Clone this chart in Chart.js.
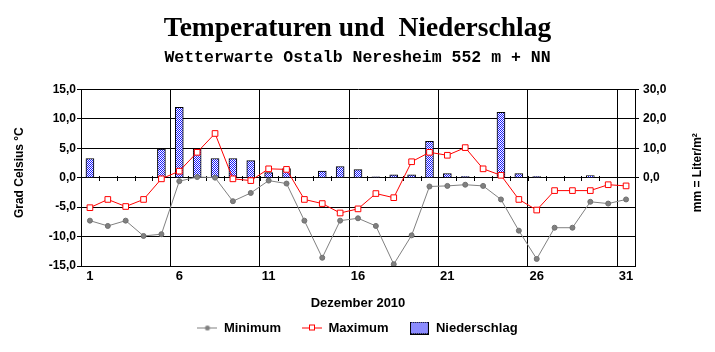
<!DOCTYPE html>
<html>
<head>
<meta charset="utf-8">
<script src="https://cdn.jsdelivr.net/npm/chart.js@4.4.0/dist/chart.umd.min.js"></script>
<style>
  html, body { margin: 0; padding: 0; background: #fff; }
</style>
</head>
<body>
<canvas id="myChart" width="715" height="352"></canvas>
<script>
// Dezember 2010, Tageswerte
var days = ['1','2','3','4','5','6','7','8','9','10','11','12','13','14','15','16',
            '17','18','19','20','21','22','23','24','25','26','27','28','29','30','31'];
var tickLabelsX = ['1','6','11','16','21','26','31'];

var tMin = [-7.3, -8.2, -7.3, -9.9, -9.6, -0.6, 0.1, 0.0, -4.0, -2.6,
            -0.5, -1.0, -7.3, -13.6, -7.3, -6.9, -8.2, -14.7, -9.8, -1.5,
            -1.4, -1.2, -1.4, -3.7, -9.0, -13.8, -8.5, -8.5, -4.1, -4.4, -3.7];
var tMax = [-5.1, -3.7, -4.9, -3.7, -0.2, 1.1, 4.3, 7.5, -0.2, -0.5,
            1.5, 1.4, -3.7, -4.4, -6.0, -5.3, -2.7, -3.4, 2.7, 4.3,
            3.8, 5.1, 1.5, 0.4, -3.7, -5.5, -2.2, -2.2, -2.2, -1.2, -1.4];
var rain = [6.5, 0, 0, 0, 9.7, 23.9, 9.7, 6.5, 6.5, 5.8,
            1.7, 3.1, 0, 2.2, 3.8, 2.7, 0.3, 1.0, 1.0, 12.3,
            1.4, 0.4, 0, 22.2, 1.4, 0.4, 0, 0, 0.7, 0, 0];

var fmt = function(v) { return v.toFixed(1).replace('.', ','); };

var ctx = document.getElementById('myChart');
var c2d = ctx.getContext('2d');

// blue dotted fill for the bars
var patCanvas = document.createElement('canvas');
patCanvas.width = 2; patCanvas.height = 2;
var pg = patCanvas.getContext('2d');
pg.fillStyle = '#fff'; pg.fillRect(0, 0, 2, 2);
pg.fillStyle = '#1a1aff'; pg.fillRect(0, 0, 1, 1); pg.fillRect(1, 1, 1, 1);
var pattern = c2d.createPattern(patCanvas, 'repeat');

// legend icons
function lineIcon(color, mark) {
    var c = document.createElement('canvas');
    c.width = 20; c.height = 9;
    var g = c.getContext('2d');
    g.strokeStyle = color; g.lineWidth = 1;
    g.beginPath(); g.moveTo(0, 4.5); g.lineTo(20, 4.5); g.stroke();
    mark(g);
    return c;
}
var iconMin = lineIcon('#808080', function(g) {
    g.fillStyle = '#808080';
    g.beginPath(); g.arc(10, 4.5, 2.5, 0, Math.PI * 2); g.fill();
});
var iconMax = lineIcon('#ff0000', function(g) {
    g.fillStyle = '#fff'; g.fillRect(7, 2, 6, 6);
    g.strokeStyle = '#ff0000'; g.strokeRect(7.5, 1.5, 5, 5);
});
var iconRain = (function() {
    var c = document.createElement('canvas');
    c.width = 19; c.height = 13;
    var g = c.getContext('2d');
    g.fillStyle = g.createPattern(patCanvas, 'repeat');
    g.fillRect(0, 0, 19, 13);
    g.strokeStyle = '#000'; g.lineWidth = 1;
    g.strokeRect(0.5, 0.5, 18, 12);
    return c;
})();
var icons = [iconMin, iconMax, iconRain];

// small tick marks on the zero line
var zeroTicks = {
    id: 'zeroTicks',
    beforeDatasetsDraw: function(chart) {
        var x = chart.scales.x, y = chart.scales.y, g = chart.ctx;
        var y0 = Math.round(y.getPixelForValue(0));
        var half = (x.getPixelForValue(1) - x.getPixelForValue(0)) / 2;
        g.save();
        g.strokeStyle = '#000'; g.lineWidth = 1;
        g.beginPath();
        for (var i = 0; i < days.length - 1; i++) {
            var px = Math.round(x.getPixelForValue(i) + half) + 0.5;
            g.moveTo(px, y0 - 2); g.lineTo(px, y0 + 3);
        }
        g.stroke();
        g.restore();
    }
};

// side titles, both reading bottom to top
var sideTitles = {
    id: 'sideTitles',
    afterDraw: function(chart) {
        var g = chart.ctx, a = chart.chartArea;
        var cy = (a.top + a.bottom) / 2 - 5;
        g.save();
        g.font = 'bold 12px "Liberation Sans"';
        g.fillStyle = '#000';
        g.textAlign = 'center'; g.textBaseline = 'middle';
        [[20, 'Grad Celsius °C'], [698, 'mm = Liter/m²']].forEach(function(t) {
            g.save();
            g.translate(t[0], cy);
            g.rotate(-Math.PI / 2);
            g.fillText(t[1], 0, 0);
            g.restore();
        });
        g.restore();
    }
};

Chart.defaults.font.family = '"Liberation Sans", Arial, sans-serif';
Chart.defaults.font.weight = 'bold';
Chart.defaults.font.size = 12;
Chart.defaults.color = '#000';

var myChart = new Chart(ctx, {
    type: 'bar',
    data: {
        labels: days,
        datasets: [{
            type: 'line',
            label: 'Minimum',
            data: tMin,
            yAxisID: 'y',
            borderColor: '#808080',
            borderWidth: 1,
            pointStyle: 'circle',
            pointRadius: 2.5,
            pointBackgroundColor: '#808080',
            pointBorderColor: '#707070',
            pointBorderWidth: 1,
            tension: 0,
            order: 1
        }, {
            type: 'line',
            label: 'Maximum',
            data: tMax,
            yAxisID: 'y',
            borderColor: '#ff0000',
            borderWidth: 1,
            pointStyle: 'rect',
            pointRadius: 4,
            pointBackgroundColor: '#fff',
            pointBorderColor: '#ff0000',
            pointBorderWidth: 1,
            tension: 0,
            order: 1
        }, {
            type: 'bar',
            label: 'Niederschlag',
            data: rain,
            yAxisID: 'y1',
            backgroundColor: pattern,
            borderColor: '#000',
            borderWidth: 1,
            barThickness: 8,
            order: 2
        }]
    },
    options: {
        responsive: false,
        animation: false,
        layout: { padding: { top: 0, bottom: 7.5, left: 0, right: 0 } },
        plugins: {
            tooltip: { enabled: false },
            title: {
                display: true,
                text: 'Temperaturen und  Niederschlag',
                font: { family: '"Liberation Serif", "Times New Roman", serif', size: 27.5, weight: 'bold' },
                padding: { top: 12, bottom: 0 }
            },
            subtitle: {
                display: true,
                text: 'Wetterwarte Ostalb Neresheim 552 m + NN',
                font: { family: '"Liberation Mono", "Courier New", monospace', size: 16.5, weight: 'bold' },
                padding: { top: 2.5, bottom: 22 }
            },
            legend: {
                position: 'bottom',
                labels: {
                    usePointStyle: true,
                    pointStyleWidth: 20,
                    padding: 21,
                    font: { size: 13, weight: 'bold' },
                    generateLabels: function(chart) {
                        return chart.data.datasets.map(function(ds, i) {
                            return {
                                text: ds.label, pointStyle: icons[i],
                                fillStyle: 'transparent', strokeStyle: 'transparent',
                                lineWidth: 0, hidden: false, datasetIndex: i, fontColor: '#000'
                            };
                        });
                    }
                }
            }
        },
        scales: {
            x: {
                offset: true,
                grid: {
                    offset: true,
                    drawTicks: false,
                    color: function(c) {
                        return (c.index > 0 && c.index < days.length && c.index % 5 === 0) ? '#000' : 'rgba(0,0,0,0)';
                    }
                },
                border: { color: '#000' },
                ticks: {
                    autoSkip: false, maxRotation: 0, padding: 3,
                    font: { size: 13, weight: 'bold' },
                    callback: function(v, i) {
                        return tickLabelsX.indexOf(days[i]) >= 0 ? days[i] : '';
                    }
                },
                title: {
                    display: true, text: 'Dezember 2010',
                    font: { size: 13, weight: 'bold' },
                    padding: { top: 0, bottom: -10.3 }
                },
                afterFit: function(s) { s.height = 34.5; }
            },
            y: {
                position: 'left',
                min: -15, max: 15,
                ticks: { stepSize: 5, padding: 1, callback: function(v) { return fmt(v); } },
                grid: { color: '#000', tickLength: 4 },
                border: { color: '#000' },
                afterFit: function(s) { s.width = 81; }
            },
            y1: {
                position: 'right',
                min: -30, max: 30,
                ticks: { stepSize: 10, padding: 4, callback: function(v) { return v >= 0 ? fmt(v) : ''; } },
                grid: {
                    drawOnChartArea: false, tickLength: 4,
                    color: function(c) { return c.tick && c.tick.value >= 0 ? '#000' : 'rgba(0,0,0,0)'; }
                },
                border: { color: '#000' },
                afterFit: function(s) { s.width = 80; }
            }
        }
    },
    plugins: [zeroTicks, sideTitles]
});
</script>
</body>
</html>
